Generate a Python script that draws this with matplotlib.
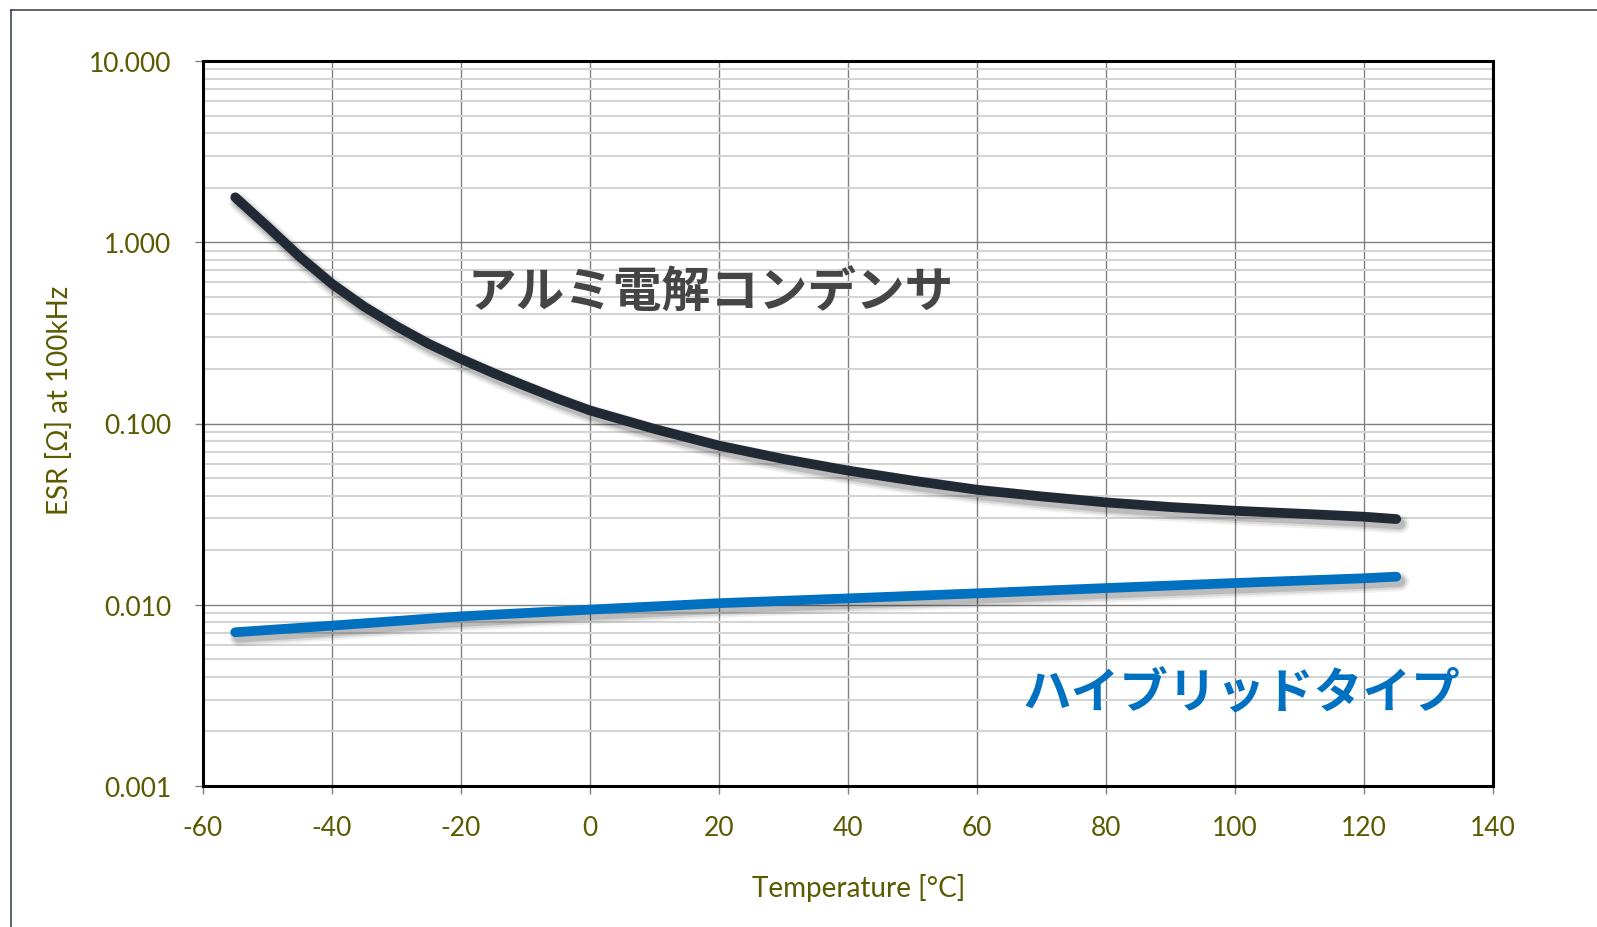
import matplotlib
matplotlib.use("Agg")
import matplotlib.pyplot as plt
import matplotlib.patheffects as pe
from matplotlib.lines import Line2D
from matplotlib.ticker import FixedLocator, FuncFormatter, LogLocator, NullFormatter

plt.rcParams["axes.unicode_minus"] = False

# temperature [°C] and ESR [ohm]
temp_alu = [-55, -50, -45, -40, -35, -30, -25, -20, -15, -10, -5, 0, 10, 20, 30, 40,
            50, 60, 70, 80, 90, 100, 110, 120, 125]
esr_alu = [1.77, 1.22, 0.832, 0.589, 0.441, 0.344, 0.275, 0.227, 0.190, 0.161, 0.137, 0.118,
           0.0933, 0.0755, 0.0637, 0.055, 0.0484, 0.0431, 0.0396, 0.0367, 0.0346, 0.033,
           0.0318, 0.0306, 0.0297]

temp_hyb = [-55, -40, -20, 0, 20, 40, 60, 80, 100, 120, 125]
esr_hyb = [0.00705, 0.00767, 0.00863, 0.0094, 0.0102, 0.01084, 0.01156, 0.01236, 0.01318, 0.0140, 0.01429]

x_ticks = [-60, -40, -20, 0, 20, 40, 60, 80, 100, 120, 140]
y_ticks = [0.001, 0.01, 0.1, 1, 10]

label_alu = "アルミ電解コンデンサ"
label_hyb = "ハイブリッドタイプ"

OLIVE = "#5A5A00"
LATIN = ["Lato", "DejaVu Sans"]
CJK = ["Noto Sans CJK JP", "DejaVu Sans"]


def shadow(lw):
    off = (2.5, -3.5)
    return [
        pe.SimpleLineShadow(offset=off, shadow_color="k", alpha=0.06, linewidth=lw + 7),
        pe.SimpleLineShadow(offset=off, shadow_color="k", alpha=0.09, linewidth=lw + 4),
        pe.SimpleLineShadow(offset=off, shadow_color="k", alpha=0.14, linewidth=lw + 1),
        pe.Normal(),
    ]


fig = plt.figure(figsize=(15.97, 9.28), dpi=100)
ax = fig.add_axes([203 / 1597, 1 - 787 / 928, 1290 / 1597, 725 / 928])

lw = 7
for xs, ys, c in [(temp_alu, esr_alu, "#212935"), (temp_hyb, esr_hyb, "#0070C0")]:
    ax.plot(xs, ys, color=c, lw=lw, solid_capstyle="round", solid_joinstyle="round",
            path_effects=shadow(lw), zorder=3)

ax.set_yscale("log")
ax.set_xlim(-60, 140)
ax.set_ylim(0.001, 10)
ax.xaxis.set_major_locator(FixedLocator(x_ticks))
ax.yaxis.set_major_locator(FixedLocator(y_ticks))
ax.yaxis.set_minor_locator(LogLocator(base=10, subs=range(2, 10)))
ax.yaxis.set_minor_formatter(NullFormatter())
ax.yaxis.set_major_formatter(FuncFormatter(lambda v, p: f"{v:.3f}"))
ax.xaxis.set_major_formatter(FuncFormatter(lambda v, p: f"{v:.0f}"))

ax.set_axisbelow(True)
ax.grid(which="major", axis="both", color="#808080", lw=1.0)
ax.grid(which="minor", axis="y", color="#D4D4D4", lw=1.5)

for s in ax.spines.values():
    s.set_linewidth(2.2)
    s.set_color("black")

ax.tick_params(which="major", direction="out", length=6, width=1, color="#808080",
               labelcolor=OLIVE, labelsize=19)
ax.tick_params(axis="y", pad=17)
ax.tick_params(axis="x", pad=15)
ax.tick_params(which="minor", length=0)
for t in ax.get_xticklabels() + ax.get_yticklabels():
    t.set_family(LATIN)

ax.set_xlabel("Temperature [°C]", color=OLIVE, fontsize=20, family=LATIN)
ax.set_ylabel("ESR [Ω] at 100kHz", color=OLIVE, fontsize=20, family=LATIN)
ax.xaxis.set_label_coords(0.508, -0.139)
ax.xaxis.label.set_va("center")
ax.yaxis.set_label_coords(-0.111, 0.533)
ax.yaxis.label.set_va("center")

ax.text(-19.0, 0.530, label_alu, color="#454545", fontsize=35, fontweight="bold",
        family=CJK, ha="left", va="center", zorder=4)
ax.text(67.1, 0.00332, label_hyb, color="#0070C0", fontsize=35, fontweight="bold",
        family=CJK, ha="left", va="center", zorder=4)

# outer frame (only left and top edges show in the reference)
fig.add_artist(Line2D([10.5 / 1597, 10.5 / 1597], [0, 1 - 10.5 / 928], color="#3E4856", lw=1.2))
fig.add_artist(Line2D([10.5 / 1597, 1], [1 - 10.5 / 928, 1 - 10.5 / 928], color="#3E4856", lw=1.2))

fig.savefig("out.png", dpi=100, facecolor="white")
